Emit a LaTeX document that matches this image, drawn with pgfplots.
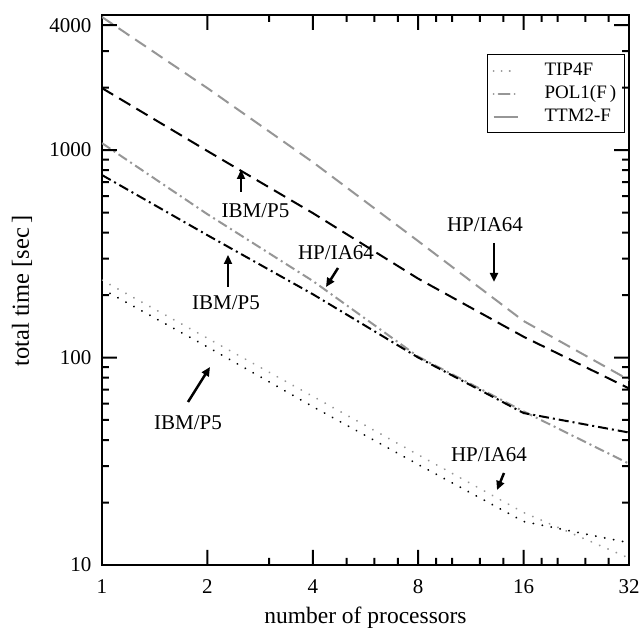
\documentclass[border=0pt]{standalone}
\usepackage{fontspec}
\setmainfont{Liberation Serif}
\usepackage{pgfplots}
\pgfplotsset{compat=1.18}
\usetikzlibrary{arrows.meta}
\definecolor{lgray}{RGB}{150,150,150}
\begin{document}
\begin{tikzpicture}
\useasboundingbox (-102pt,-66pt) rectangle (541pt,565pt);
\begin{loglogaxis}[
  at={(0pt,0pt)}, anchor=south west,
  scale only axis, width=527pt, height=550pt,
  xmin=1, xmax=32, ymin=10, ymax=4480,
  xtick={1,2,4,8,16,32}, xticklabels={1,2,4,8,16,32},
  ytick={10,100,1000,4000}, yticklabels={10,100,1000,4000},
  major tick length=0pt, minor tick length=0pt,
  axis line style={line width=2.5pt},
  tick label style={font=\fontsize{21}{21}\selectfont},
  xticklabel style={yshift=-11pt},
  yticklabel style={xshift=-7pt},
  /pgf/number format/assume math mode=true,
  xlabel={number of processors}, ylabel={total time [sec\,]},
  xlabel style={font=\fontsize{23.5}{23.5}\selectfont, at={(axis description cs:0.5,-0.095)}, anchor=center},
  ylabel style={font=\fontsize{24.5}{24.5}\selectfont, at={(axis description cs:-0.152,0.498)}, anchor=center},
  legend style={at={(0.7306,0.929)}, anchor=north west, draw=black, line width=1pt,
    font=\fontsize{19}{19}\selectfont, inner xsep=5pt, inner ysep=4.5pt,
    nodes={inner ysep=2.5pt, inner xsep=3pt, text height=14pt, text depth=4pt},
    /tikz/every odd column/.append style={column sep=23pt}},
  legend cell align=left,
  legend image code/.code={\draw[#1] (0pt,0pt) -- (24pt,0pt);},
]
% TIP4F
\addplot[forget plot, lgray, line width=2pt, line cap=round, dash pattern=on 0.1pt off 9pt] coordinates {(1,236) (2,124) (4,65) (8,34) (16,17.9) (32,10.8)};
\addplot[forget plot, black, line width=2pt, line cap=round, dash pattern=on 0.1pt off 9pt] coordinates {(1,214) (2,112.6) (4,58) (8,30.5) (16,16.2) (32,12.8)};
% POL1(F)
\addplot[forget plot, lgray, line width=2pt, dash pattern=on 10pt off 4pt on 2pt off 4pt] coordinates {(1,1080) (2,491) (4,234) (8,101) (16,55) (32,30.8)};
\addplot[forget plot, black, line width=2pt, dash pattern=on 10pt off 4pt on 2pt off 4pt] coordinates {(1,758) (2,389) (4,202) (8,100) (16,54) (32,43.5)};
% TTM2-F
\addplot[forget plot, lgray, line width=2pt, dash pattern=on 13pt off 7pt] coordinates {(1,4380) (2,1990) (4,875) (8,364) (16,150) (32,78)};
\addplot[forget plot, black, line width=2pt, dash pattern=on 13pt off 7pt] coordinates {(1,1990) (2,990) (4,497) (8,240) (16,126) (32,71)};
\addlegendimage{lgray, line width=2pt, line cap=round, dash pattern=on 0.1pt off 8pt}
\addlegendentry{TIP4F}
\addlegendimage{lgray, line width=2pt, line cap=round, dash pattern=on 0.1pt off 5pt on 11pt off 5pt}
\addlegendentry{POL1(F\,)}
\addlegendimage{lgray, line width=2pt}
\addlegendentry{TTM2-F}
\end{loglogaxis}
% inward tick marks on all four sides of the frame (frame = 527pt x 550pt), as thin filled bars
\fill[black]
  (104.4pt,0pt) rectangle ++(2pt,15pt)  (166.06pt,0pt) rectangle ++(2pt,7pt)
  (209.8pt,0pt) rectangle ++(2pt,15pt)  (243.73pt,0pt) rectangle ++(2pt,7pt)
  (271.45pt,0pt) rectangle ++(2pt,7pt)  (294.89pt,0pt) rectangle ++(2pt,7pt)
  (315.2pt,0pt) rectangle ++(2pt,15pt)  (333.11pt,0pt) rectangle ++(2pt,7pt)
  (349.13pt,0pt) rectangle ++(2pt,7pt)  (376.85pt,0pt) rectangle ++(2pt,7pt)
  (400.29pt,0pt) rectangle ++(2pt,7pt)  (420.6pt,0pt) rectangle ++(2pt,15pt)
  (438.51pt,0pt) rectangle ++(2pt,7pt)  (454.53pt,0pt) rectangle ++(2pt,7pt)
  (482.25pt,0pt) rectangle ++(2pt,7pt)  (505.69pt,0pt) rectangle ++(2pt,7pt)
  (104.4pt,550pt) rectangle ++(2pt,-15pt)  (166.06pt,550pt) rectangle ++(2pt,-7pt)
  (209.8pt,550pt) rectangle ++(2pt,-15pt)  (243.73pt,550pt) rectangle ++(2pt,-7pt)
  (271.45pt,550pt) rectangle ++(2pt,-7pt)  (294.89pt,550pt) rectangle ++(2pt,-7pt)
  (315.2pt,550pt) rectangle ++(2pt,-15pt)  (333.11pt,550pt) rectangle ++(2pt,-7pt)
  (349.13pt,550pt) rectangle ++(2pt,-7pt)  (376.85pt,550pt) rectangle ++(2pt,-7pt)
  (400.29pt,550pt) rectangle ++(2pt,-7pt)  (420.6pt,550pt) rectangle ++(2pt,-15pt)
  (438.51pt,550pt) rectangle ++(2pt,-7pt)  (454.53pt,550pt) rectangle ++(2pt,-7pt)
  (482.25pt,550pt) rectangle ++(2pt,-7pt)  (505.69pt,550pt) rectangle ++(2pt,-7pt)
  (0pt,61.45pt) rectangle ++(7pt,2pt)  (0pt,97.98pt) rectangle ++(7pt,2pt)
  (0pt,123.90pt) rectangle ++(7pt,2pt)  (0pt,144.00pt) rectangle ++(7pt,2pt)
  (0pt,160.43pt) rectangle ++(7pt,2pt)  (0pt,174.32pt) rectangle ++(7pt,2pt)
  (0pt,186.35pt) rectangle ++(7pt,2pt)  (0pt,196.96pt) rectangle ++(7pt,2pt)
  (0pt,206.45pt) rectangle ++(15pt,2pt)  (0pt,268.90pt) rectangle ++(7pt,2pt)
  (0pt,305.43pt) rectangle ++(7pt,2pt)  (0pt,331.35pt) rectangle ++(7pt,2pt)
  (0pt,351.45pt) rectangle ++(7pt,2pt)  (0pt,367.88pt) rectangle ++(7pt,2pt)
  (0pt,381.77pt) rectangle ++(7pt,2pt)  (0pt,393.80pt) rectangle ++(7pt,2pt)
  (0pt,404.41pt) rectangle ++(7pt,2pt)  (0pt,413.90pt) rectangle ++(15pt,2pt)
  (0pt,476.35pt) rectangle ++(7pt,2pt)  (0pt,512.88pt) rectangle ++(7pt,2pt)
  (0pt,538.80pt) rectangle ++(15pt,2pt)
  (527pt,61.45pt) rectangle ++(-7pt,2pt)  (527pt,97.98pt) rectangle ++(-7pt,2pt)
  (527pt,123.90pt) rectangle ++(-7pt,2pt)  (527pt,144.00pt) rectangle ++(-7pt,2pt)
  (527pt,160.43pt) rectangle ++(-7pt,2pt)  (527pt,174.32pt) rectangle ++(-7pt,2pt)
  (527pt,186.35pt) rectangle ++(-7pt,2pt)  (527pt,196.96pt) rectangle ++(-7pt,2pt)
  (527pt,206.45pt) rectangle ++(-15pt,2pt)  (527pt,268.90pt) rectangle ++(-7pt,2pt)
  (527pt,305.43pt) rectangle ++(-7pt,2pt)  (527pt,331.35pt) rectangle ++(-7pt,2pt)
  (527pt,351.45pt) rectangle ++(-7pt,2pt)  (527pt,367.88pt) rectangle ++(-7pt,2pt)
  (527pt,381.77pt) rectangle ++(-7pt,2pt)  (527pt,393.80pt) rectangle ++(-7pt,2pt)
  (527pt,404.41pt) rectangle ++(-7pt,2pt)  (527pt,413.90pt) rectangle ++(-15pt,2pt)
  (527pt,476.35pt) rectangle ++(-7pt,2pt)  (527pt,512.88pt) rectangle ++(-7pt,2pt)
  (527pt,538.80pt) rectangle ++(-15pt,2pt);
\tikzset{lab/.style={anchor=base, font=\fontsize{21}{21}\selectfont, inner sep=0pt},
  arr/.style={-{Triangle[length=9pt,width=8pt]}, line width=2.5pt}}
\node[lab] at (153.5pt,347pt) {IBM/P5};
\draw[arr] (139pt,373pt) -- (139pt,395pt);
\node[lab] at (124pt,255pt) {IBM/P5};
\draw[arr] (126pt,278pt) -- (126pt,310pt);
\node[lab] at (86pt,135pt) {IBM/P5};
\draw[arr] (86pt,163pt) -- (108pt,198pt);
\node[lab] at (234pt,305pt) {HP/IA64};
\draw[arr] (236pt,297pt) -- (224pt,278pt);
\node[lab] at (383pt,333pt) {HP/IA64};
\draw[arr] (392pt,322pt) -- (392pt,283pt);
\node[lab] at (387pt,103pt) {HP/IA64};
\draw[arr] (402pt,92pt) -- (395pt,75pt);
\end{tikzpicture}
\end{document}
